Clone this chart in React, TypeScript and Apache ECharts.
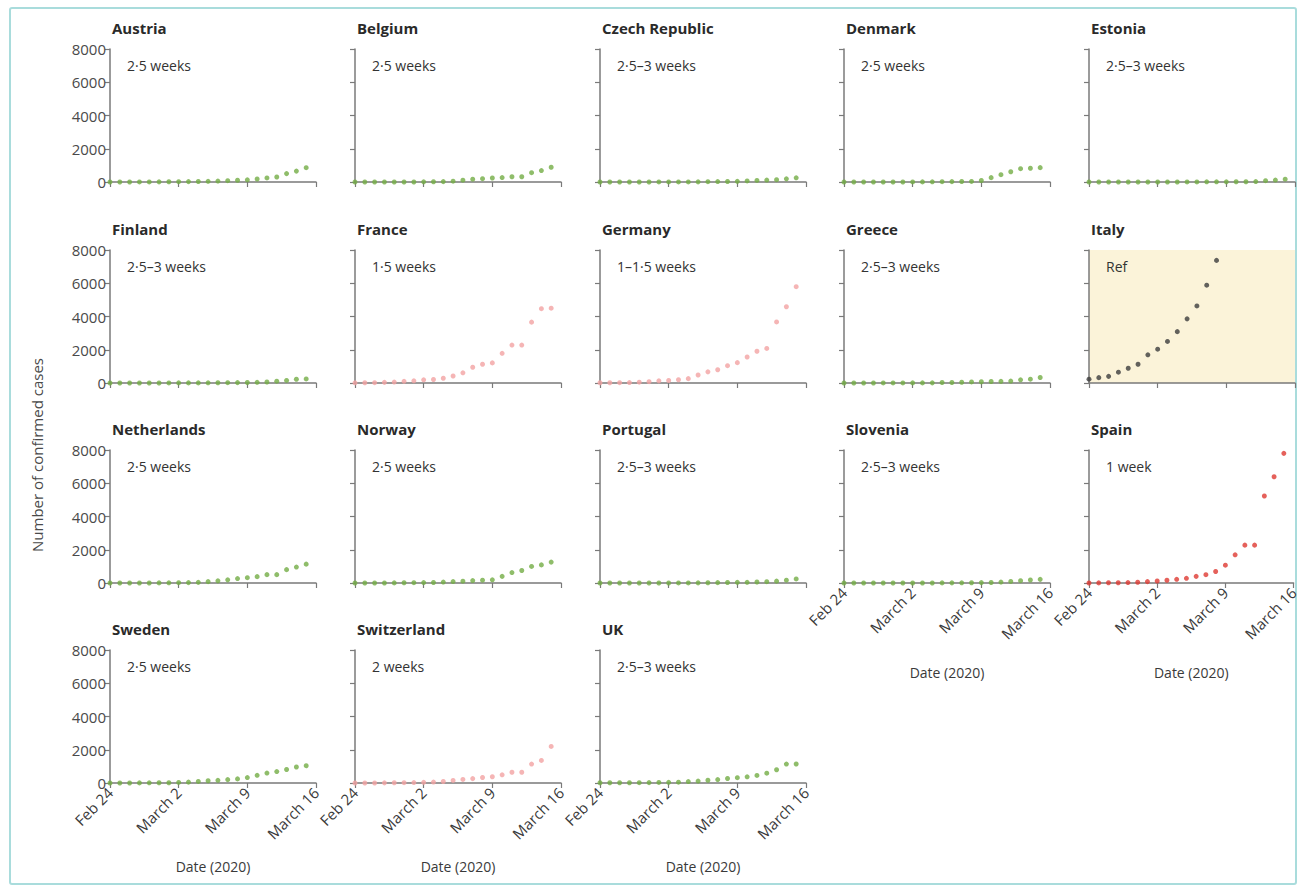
import React, { useEffect, useRef } from "react";
import * as echarts from "echarts";

const dates = [
  "Feb 24", "Feb 25", "Feb 26", "Feb 27", "Feb 28", "Feb 29",
  "March 1", "March 2", "March 3", "March 4", "March 5", "March 6", "March 7",
  "March 8", "March 9", "March 10", "March 11", "March 12", "March 13", "March 14",
  "March 15", "March 16",
];
const tickLabels = ["Feb 24", "March 2", "March 9", "March 16"];

const countries = [
  "Austria", "Belgium", "Czech Republic", "Denmark", "Estonia",
  "Finland", "France", "Germany", "Greece", "Italy",
  "Netherlands", "Norway", "Portugal", "Slovenia", "Spain",
  "Sweden", "Switzerland", "UK",
];
const lags = [
  "2·5 weeks", "2·5 weeks", "2·5–3 weeks", "2·5 weeks", "2·5–3 weeks",
  "2·5–3 weeks", "1·5 weeks", "1–1·5 weeks", "2·5–3 weeks", "Ref",
  "2·5 weeks", "2·5 weeks", "2·5–3 weeks", "2·5–3 weeks", "1 week",
  "2·5 weeks", "2 weeks", "2·5–3 weeks",
];
// colour group per panel: g = green, p = pink, r = red, k = reference (Italy)
const groups = [
  "g", "g", "g", "g", "g",
  "g", "p", "p", "g", "k",
  "g", "g", "g", "g", "r",
  "g", "p", "g",
];

const austria = [0, 2, 2, 3, 5, 9, 14, 18, 24, 29, 41, 55, 79, 104, 131, 182, 246, 302, 504, 655, 860];
const belgium = [1, 1, 1, 1, 1, 1, 2, 8, 13, 23, 50, 109, 169, 200, 239, 267, 314, 314, 559, 689, 886];
const czech = [0, 0, 0, 0, 0, 0, 3, 3, 5, 5, 8, 19, 26, 32, 38, 63, 94, 116, 141, 189, 253];
const denmark = [0, 0, 0, 1, 1, 1, 2, 4, 6, 10, 20, 23, 31, 35, 90, 262, 442, 615, 801, 827, 864];
const estonia = [0, 0, 0, 1, 1, 1, 1, 1, 2, 2, 3, 3, 10, 10, 10, 13, 16, 27, 79, 115, 171];
const finland = [1, 1, 1, 2, 2, 2, 3, 6, 7, 7, 12, 15, 19, 23, 30, 40, 59, 109, 156, 225, 244];
const france = [12, 14, 18, 38, 57, 100, 130, 191, 212, 285, 423, 613, 949, 1126, 1209, 1784, 2281, 2281, 3661, 4469, 4499];
const germany = [16, 16, 18, 26, 48, 79, 129, 150, 196, 262, 482, 670, 795, 1040, 1224, 1565, 1908, 2078, 3675, 4585, 5795];
const greece = [0, 0, 1, 1, 3, 3, 4, 7, 7, 9, 31, 32, 45, 66, 73, 89, 99, 117, 190, 228, 331];
const italy = [229, 322, 400, 650, 888, 1128, 1694, 2036, 2502, 3089, 3858, 4636, 5883, 7375];
const netherlands = [0, 0, 0, 1, 2, 6, 10, 18, 24, 38, 82, 128, 188, 265, 321, 382, 503, 503, 804, 959, 1135];
const norway = [0, 0, 1, 1, 6, 15, 19, 25, 32, 56, 87, 108, 147, 169, 192, 400, 629, 750, 996, 1090, 1256];
const portugal = [0, 0, 0, 0, 0, 0, 0, 2, 4, 5, 9, 13, 21, 30, 39, 41, 59, 78, 112, 169, 245];
const slovenia = [0, 0, 0, 0, 0, 0, 0, 0, 1, 2, 6, 8, 12, 16, 23, 31, 57, 96, 141, 181, 219];
const spain = [2, 6, 13, 15, 25, 45, 84, 120, 165, 222, 282, 400, 500, 690, 1073, 1695, 2277, 2277, 5232, 6391, 7798];
const sweden = [1, 1, 2, 7, 12, 14, 15, 35, 52, 94, 137, 161, 203, 248, 326, 461, 599, 687, 814, 961, 1040];
const switzerland = [0, 1, 1, 8, 15, 18, 27, 42, 56, 90, 154, 214, 264, 332, 374, 491, 645, 645, 1139, 1359, 2200];
const uk = [13, 13, 13, 15, 20, 23, 36, 39, 51, 85, 116, 164, 206, 273, 319, 373, 456, 590, 798, 1140, 1144];

const seriesValues = [
  austria, belgium, czech, denmark, estonia,
  finland, france, germany, greece, italy,
  netherlands, norway, portugal, slovenia, spain,
  sweden, switzerland, uk,
];

const yTicks = [0, 2000, 4000, 6000, 8000];

const COLORS: Record<string, string> = {
  g: "#73ad45",
  p: "#f2a2a2",
  r: "#de3a32",
  k: "#3c3c3c",
};

const FONT = "'Open Sans', 'Liberation Sans', sans-serif";
const COL_LEFT = [110, 355, 600, 844, 1089];
const ROW_TOP = [49, 250, 450, 650];
const GW = 206;
const GH = 133;

export default function App() {
  const ref = useRef<HTMLDivElement>(null);

  useEffect(() => {
    document.body.style.margin = "0";
    if (!ref.current) return;
    const chart = echarts.init(ref.current, undefined, { renderer: "svg" });

    const grids: any[] = [];
    const xAxes: any[] = [];
    const yAxes: any[] = [];
    const series: any[] = [];
    const graphics: any[] = [];

    const tickIdx = tickLabels.map((t) => dates.indexOf(t));
    const showTick = (i: number) => tickIdx.indexOf(i) >= 0;

    countries.forEach((name, k) => {
      const row = Math.floor(k / 5);
      const col = k % 5;
      const left = COL_LEFT[col];
      const top = ROW_TOP[row];
      const isBottom = row === 3 || (row === 2 && col >= 3);
      const isRef = groups[k] === "k";

      grids.push({
        left,
        top,
        width: GW,
        height: GH,
        show: isRef,
        backgroundColor: isRef ? "#fbf3d9" : "transparent",
        borderWidth: 0,
      });

      xAxes.push({
        type: "category",
        gridIndex: k,
        data: dates,
        boundaryGap: false,
        axisLine: { show: true, lineStyle: { color: "#7a7a7a", width: 1.5 } },
        axisTick: {
          show: true,
          interval: (i: number) => showTick(i),
          length: 5,
          lineStyle: { color: "#7a7a7a", width: 1.2 },
        },
        axisLabel: {
          show: isBottom,
          interval: (i: number) => showTick(i),
          rotate: 45,
          margin: 7,
          fontFamily: FONT,
          fontSize: 15,
          color: "#3a3a3a",
          showMaxLabel: true,
        },
        splitLine: { show: false },
        name: isBottom ? "Date (2020)" : "",
        nameLocation: "middle",
        nameGap: row === 3 ? 76 : 82,
        nameTextStyle: { fontFamily: FONT, fontSize: 14, color: "#3a3a3a" },
      });

      yAxes.push({
        type: "value",
        gridIndex: k,
        min: yTicks[0],
        max: yTicks[yTicks.length - 1],
        interval: yTicks[1] - yTicks[0],
        axisLine: { show: true, lineStyle: { color: "#7a7a7a", width: 1.5 } },
        axisTick: { show: true, length: 5, lineStyle: { color: "#7a7a7a", width: 1.2 } },
        axisLabel: {
          show: col === 0,
          margin: 4,
          fontFamily: FONT,
          fontSize: 15,
          color: "#4a4a4a",
          formatter: (v: number) => String(v),
        },
        splitLine: { show: false },
      });

      const vals = seriesValues[k];
      series.push({
        type: "scatter",
        xAxisIndex: k,
        yAxisIndex: k,
        symbol: "circle",
        symbolSize: 5,
        itemStyle: { color: COLORS[groups[k]] },
        data: vals.map((v, i) => [dates[i], v]),
      });

      graphics.push({
        type: "text",
        left: left + 2,
        top: top - 29,
        style: {
          text: name,
          fontFamily: FONT,
          fontWeight: "bold",
          fontSize: 15,
          fill: "#2a2a2a",
        },
      });
      graphics.push({
        type: "text",
        left: left + 17,
        top: top + 9,
        style: {
          text: lags[k],
          fontFamily: FONT,
          fontSize: 14,
          fill: "#333",
        },
      });
    });

    graphics.push({
      type: "text",
      x: 37,
      y: 455,
      rotation: Math.PI / 2,
      style: {
        text: "Number of confirmed cases",
        fontFamily: FONT,
        fontSize: 15,
        fill: "#4a4a4a",
        align: "center",
        verticalAlign: "middle",
      },
    });
    graphics.push({
      type: "rect",
      shape: { x: 10, y: 8, width: 1286, height: 876, r: 2 },
      style: { fill: "none", stroke: "#a9dcdc", lineWidth: 2 },
      z: -1,
    });

    chart.setOption({
      animation: false,
      backgroundColor: "#ffffff",
      grid: grids,
      xAxis: xAxes,
      yAxis: yAxes,
      series,
      graphic: graphics,
    });

    return () => chart.dispose();
  }, []);

  return <div ref={ref} style={{ width: 1301, height: 888 }} />;
}
